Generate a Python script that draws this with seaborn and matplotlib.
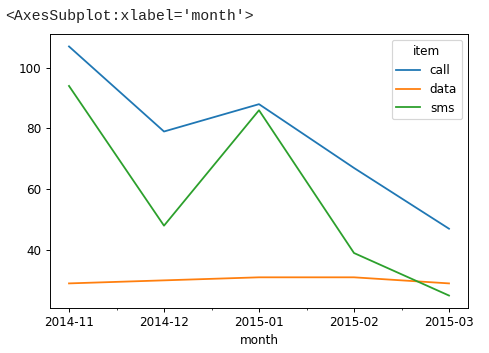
import matplotlib
matplotlib.use("Agg")
import matplotlib.pyplot as plt
import seaborn as sns
import pandas as pd
from matplotlib.ticker import FixedLocator

months = ["2014-11", "2014-12", "2015-01", "2015-02", "2015-03"]
call = [107, 79, 88, 67, 47]
data = [29, 30, 31, 31, 29]
sms = [94, 48, 86, 39, 25]

df = pd.DataFrame({
    "month": months * 3,
    "item": ["call"] * 5 + ["data"] * 5 + ["sms"] * 5,
    "value": call + data + sms,
})
df["x"] = df["month"].map({m: i for i, m in enumerate(months)})

DPI = 86
fig = plt.figure(figsize=(489 / DPI, 353 / DPI), dpi=DPI)
ax = fig.add_axes([50 / 489, 1 - 308 / 353, 418 / 489, 274 / 353])
sns.lineplot(data=df, x="x", y="value", hue="item", ax=ax,
             palette=["#1f77b4", "#ff7f0e", "#2ca02c"], linewidth=1.5)
ax.set_xticks(range(len(months)))
ax.set_xticklabels(months)
ax.xaxis.set_minor_locator(FixedLocator([0.5, 1.5, 2.5, 3.5]))
ax.set_xlim(-0.2, 4.2)
ax.set_xlabel("month")
ax.set_ylabel("")
ax.set_yticks([40, 60, 80, 100])
ymin, ymax = min(data + sms + call), max(data + sms + call)
pad = (ymax - ymin) * 0.05
ax.set_ylim(ymin - pad, ymax + pad)
ax.legend(title="item", loc="upper right")

fig.text(5 / 489, 1 - 16 / 353, "<AxesSubplot:xlabel='month'>",
         family=["Liberation Mono", "DejaVu Sans Mono"], fontsize=12.5, va="center", ha="left",
         color="#222222")

fig.savefig("out.png", dpi=DPI)
